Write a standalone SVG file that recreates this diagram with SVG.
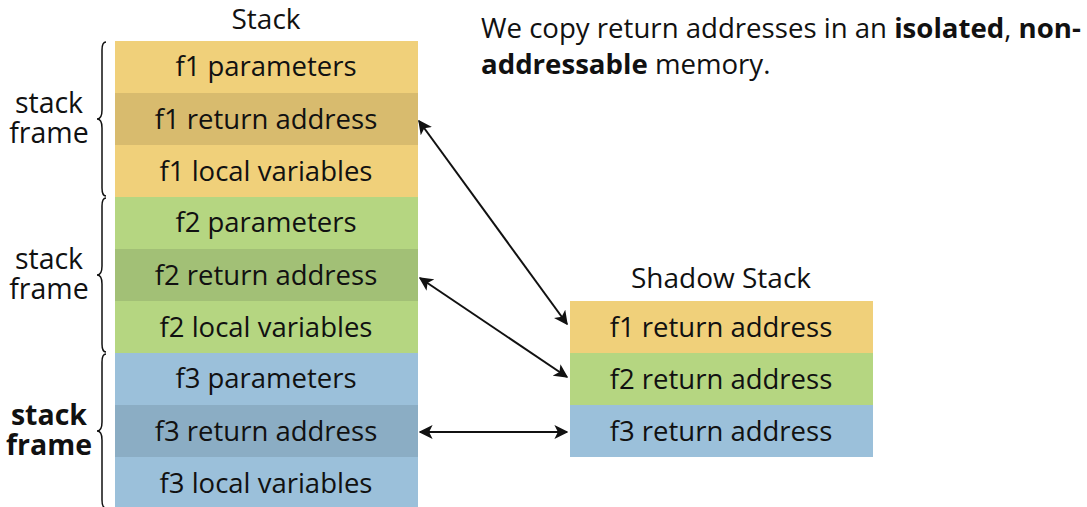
<svg xmlns="http://www.w3.org/2000/svg" width="1087" height="507" viewBox="0 0 1087 507">
  <style>
    text { font-family: "Open Sans", "Noto Sans", sans-serif; fill: #111; }
    .cell { font-size: 27.5px; text-anchor: middle; }
    .title { font-size: 28px; text-anchor: middle; }
    .side { font-size: 28.5px; text-anchor: middle; }
    .head { font-size: 27.6px; }
    .b { font-weight: bold; }
    .y { fill: #F0D07A; }
    .yd { fill: #D8BB6E; }
    .g { fill: #B5D681; }
    .gd { fill: #A2C076; }
    .bl { fill: #9BC0DA; }
    .bld { fill: #8BADC4; }
    .brace { fill: none; stroke: #111; stroke-width: 1.5; }
    .conn { stroke: #111; stroke-width: 2; fill: none; marker-start: url(#ah); marker-end: url(#ah); }
  </style>
  <defs>
    <marker id="ah" viewBox="0 0 10 10" refX="9" refY="5" markerWidth="7" markerHeight="7" orient="auto-start-reverse" markerUnits="strokeWidth">
      <path d="M0,0 L10,5 L0,10 L2.5,5 Z" fill="#111"/>
    </marker>
  </defs>

  <rect width="1087" height="507" fill="#fff"/>

  <text class="title" x="266" y="29">Stack</text>
  <text class="head" x="481" y="38">We copy return addresses in an <tspan class="b">isolated</tspan>, <tspan class="b">non-</tspan></text>
  <text class="head" x="481" y="74"><tspan class="b">addressable</tspan> memory.</text>

  <!-- call stack -->
  <g id="f1-parameters"><rect class="y" x="115" y="41" width="303" height="52"/><text class="cell" x="266" y="76">f1 parameters</text></g>
  <g id="f1-return"><rect class="yd" x="115" y="93" width="303" height="52"/><text class="cell" x="266" y="129">f1 return address</text></g>
  <g id="f1-locals"><rect class="y" x="115" y="145" width="303" height="52"/><text class="cell" x="266" y="181">f1 local variables</text></g>
  <g id="f2-parameters"><rect class="g" x="115" y="197" width="303" height="52"/><text class="cell" x="266" y="232">f2 parameters</text></g>
  <g id="f2-return"><rect class="gd" x="115" y="249" width="303" height="52"/><text class="cell" x="266" y="285">f2 return address</text></g>
  <g id="f2-locals"><rect class="g" x="115" y="301" width="303" height="52"/><text class="cell" x="266" y="337">f2 local variables</text></g>
  <g id="f3-parameters"><rect class="bl" x="115" y="353" width="303" height="52"/><text class="cell" x="266" y="388">f3 parameters</text></g>
  <g id="f3-return"><rect class="bld" x="115" y="405" width="303" height="52"/><text class="cell" x="266" y="441">f3 return address</text></g>
  <g id="f3-locals"><rect class="bl" x="115" y="457" width="303" height="52"/><text class="cell" x="266" y="493">f3 local variables</text></g>

  <!-- frame braces and labels -->
  <g id="frame1">
    <path class="brace" d="M106,42 Q102,42 102,50 L102,110 Q102,119 97,119 Q102,119 102,128 L102,188 Q102,196 106,196"/>
    <text class="side" x="49" y="113">stack</text>
    <text class="side" x="49" y="143">frame</text>
  </g>
  <g id="frame2">
    <path class="brace" d="M106,198 Q102,198 102,206 L102,266 Q102,275 97,275 Q102,275 102,284 L102,344 Q102,352 106,352"/>
    <text class="side" x="49" y="269">stack</text>
    <text class="side" x="49" y="299">frame</text>
  </g>
  <g id="frame3">
    <path class="brace" d="M106,354 Q102,354 102,362 L102,422 Q102,431 97,431 Q102,431 102,440 L102,500 Q102,508 106,508"/>
    <text class="side b" x="49" y="425">stack</text>
    <text class="side b" x="49" y="455">frame</text>
  </g>

  <!-- shadow stack -->
  <text class="title" x="721" y="288">Shadow Stack</text>
  <g id="s1-return"><rect class="y" x="570" y="301" width="303" height="52"/><text class="cell" x="721" y="337">f1 return address</text></g>
  <g id="s2-return"><rect class="g" x="570" y="353" width="303" height="52"/><text class="cell" x="721" y="389">f2 return address</text></g>
  <g id="s3-return"><rect class="bl" x="570" y="405" width="303" height="52"/><text class="cell" x="721" y="441">f3 return address</text></g>

  <g id="connectors">
    <line class="conn" x1="419" y1="121" x2="567" y2="324"/>
    <line class="conn" x1="420" y1="278" x2="567" y2="377"/>
    <line class="conn" x1="420" y1="432" x2="567" y2="432"/>
  </g>
</svg>
